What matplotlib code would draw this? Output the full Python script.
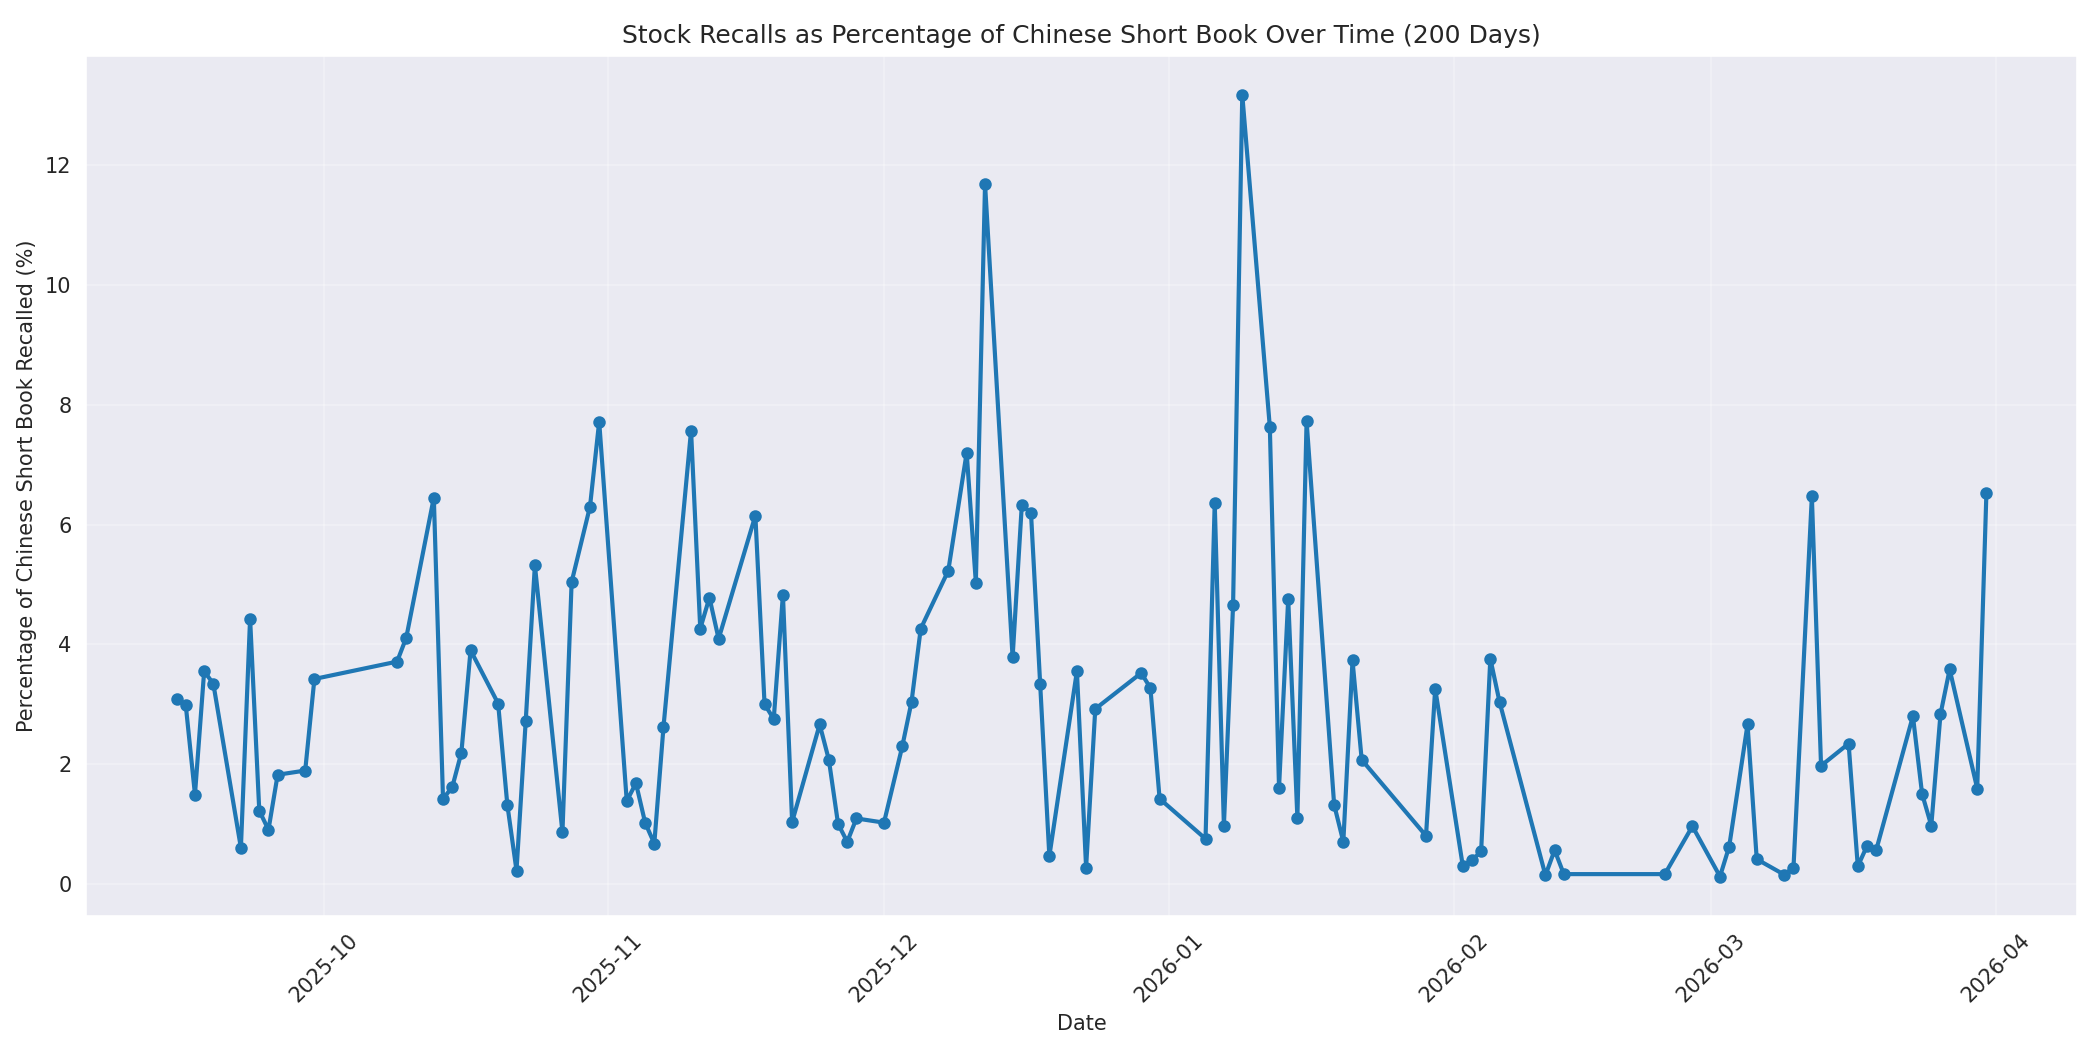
import matplotlib
matplotlib.use("Agg")
import matplotlib.pyplot as plt
import seaborn as sns
import pandas as pd

dates = [
    "2025-09-15", "2025-09-16", "2025-09-17", "2025-09-18", "2025-09-19",
    "2025-09-22", "2025-09-23", "2025-09-24", "2025-09-25", "2025-09-26",
    "2025-09-29", "2025-09-30", "2025-10-09", "2025-10-10", "2025-10-13",
    "2025-10-14", "2025-10-15", "2025-10-16", "2025-10-17", "2025-10-20",
    "2025-10-21", "2025-10-22", "2025-10-23", "2025-10-24", "2025-10-27",
    "2025-10-28", "2025-10-30", "2025-10-31", "2025-11-03", "2025-11-04",
    "2025-11-05", "2025-11-06", "2025-11-07", "2025-11-10", "2025-11-11",
    "2025-11-12", "2025-11-13", "2025-11-17", "2025-11-18", "2025-11-19",
    "2025-11-20", "2025-11-21", "2025-11-24", "2025-11-25", "2025-11-26",
    "2025-11-27", "2025-11-28", "2025-12-01", "2025-12-03", "2025-12-04",
    "2025-12-05", "2025-12-08", "2025-12-10", "2025-12-11", "2025-12-12",
    "2025-12-15", "2025-12-16", "2025-12-17", "2025-12-18", "2025-12-19",
    "2025-12-22", "2025-12-23", "2025-12-24", "2025-12-29", "2025-12-30",
    "2025-12-31", "2026-01-05", "2026-01-06", "2026-01-07", "2026-01-08",
    "2026-01-09", "2026-01-12", "2026-01-13", "2026-01-14", "2026-01-15",
    "2026-01-16", "2026-01-19", "2026-01-20", "2026-01-21", "2026-01-22",
    "2026-01-29", "2026-01-30", "2026-02-02", "2026-02-03", "2026-02-04",
    "2026-02-05", "2026-02-06", "2026-02-11", "2026-02-12", "2026-02-13",
    "2026-02-24", "2026-02-27", "2026-03-02", "2026-03-03", "2026-03-05",
    "2026-03-06", "2026-03-09", "2026-03-10", "2026-03-12", "2026-03-13",
    "2026-03-16", "2026-03-17", "2026-03-18", "2026-03-19", "2026-03-23",
    "2026-03-24", "2026-03-25", "2026-03-26", "2026-03-27", "2026-03-30",
    "2026-03-31",
]

recall_pct = [
    3.09, 2.98, 1.49, 3.55, 3.34,
    0.60, 4.43, 1.22, 0.90, 1.82,
    1.89, 3.42, 3.71, 4.11, 6.45,
    1.42, 1.61, 2.19, 3.90, 3.01,
    1.32, 0.22, 2.71, 5.32, 0.86,
    5.04, 6.30, 7.72, 1.38, 1.68,
    1.02, 0.67, 2.62, 7.57, 4.26,
    4.78, 4.09, 6.15, 3.00, 2.75,
    4.83, 1.03, 2.66, 2.07, 1.00,
    0.70, 1.09, 1.02, 2.30, 3.04,
    4.26, 5.23, 7.20, 5.03, 11.69,
    3.78, 6.32, 6.20, 3.34, 0.46,
    3.55, 0.27, 2.92, 3.52, 3.27,
    1.42, 0.75, 6.36, 0.97, 4.66,
    13.18, 7.63, 1.60, 4.76, 1.10,
    7.73, 1.32, 0.70, 3.73, 2.07,
    0.80, 3.26, 0.30, 0.39, 0.54,
    3.76, 3.04, 0.14, 0.56, 0.16,
    0.16, 0.96, 0.12, 0.62, 2.66,
    0.41, 0.15, 0.27, 6.47, 1.97,
    2.34, 0.29, 0.63, 0.56, 2.80,
    1.50, 0.97, 2.83, 3.58, 1.59,
    6.53,
]

title = "Stock Recalls as Percentage of Chinese Short Book Over Time (200 Days)"
xlabel = "Date"
ylabel = "Percentage of Chinese Short Book Recalled (%)"

sns.set_style("darkgrid")
plt.rcParams["font.family"] = ["DejaVu Sans"]

x = pd.to_datetime(dates)

fig, ax = plt.subplots(figsize=(14, 7), dpi=150)
ax.plot(x, recall_pct, marker="o", linewidth=2, markersize=5, color="#1f77b4")
ax.set_title(title, fontsize=12)
ax.set_xlabel(xlabel, fontsize=10)
ax.set_ylabel(ylabel, fontsize=10)
ax.tick_params(axis="both", labelsize=10)
plt.setp(ax.get_xticklabels(), rotation=45)
ax.grid(True, alpha=0.3)
fig.subplots_adjust(left=0.041, right=0.989, bottom=0.128, top=0.947)
fig.savefig("out.png", dpi=150)
